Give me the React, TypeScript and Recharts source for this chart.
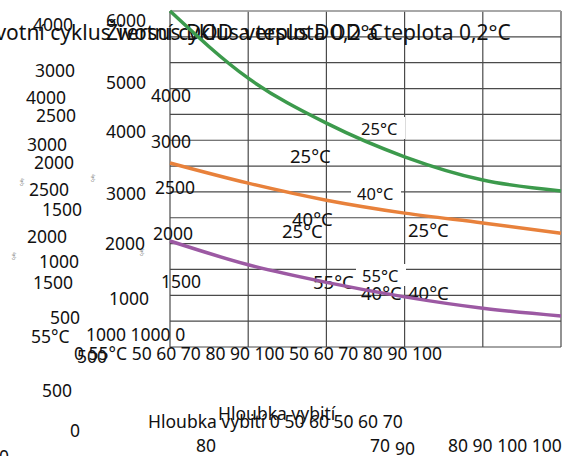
import { LineChart, Line, XAxis, YAxis, CartesianGrid, ReferenceLine, Customized } from 'recharts';

// depth of discharge (%) and cycle life per temperature
const dod = ['50', '60', '70', '80', '90', '100'];
const cycles25 = [6500, 5200, 4330, 3680, 3230, 3020];
const cycles40 = [3560, 3170, 2840, 2590, 2400, 2200];
const cycles55 = [2050, 1590, 1250, 970, 750, 600];
const gridTicks = [0, 500, 1000, 1500, 2000, 2500, 3000, 3500, 4000, 4500, 5000, 5500, 6000];

const title = 'Životní cyklus versus DOD a teplota 0,2°C';
const xTitle = 'Hloubka vybití';
const yTitle = 'Cykly';

// leftover tick texts from the overlapping axes
const outerTicks = ['4000', '3000', '4000', '2500', '3000', '2000', '2500', '1500', '2000', '1000', '1500', '500', '55°C', '500', '0', '0'];
const middleTicks = ['6000', '5000', '4000', '3000', '2000', '1000', '500'];
const innerTicks = ['4000', '3000', '2500', '2000', '1500', '1000 1000 0'];
const bottomTicks = ['0 55°C 50 60 70 80 90 100 50 60 70 80 90 100', `${xTitle} 0 50 60 50 60 70`, xTitle, '80', '70', '90', '80 90 100 100'];
const boxedLabels = ['25°C', '40°C', '55°C'];
const curveLabels = ['25°C', '40°C', '25°C', '25°C', '55°C', '40°C', '40°C'];

// layout for the texts above (x, baseline)
const outerPos = [[33, 31], [35, 77], [26, 104], [36, 122], [27, 151], [34, 169], [29, 196], [42, 216], [27, 243], [39, 268], [33, 289], [50, 324], [31, 343], [42, 397], [70, 437], [-1, 463]];
const middlePos = [[106, 27], [106, 89], [106, 138], [106, 200], [105, 250], [109, 305], [77, 363]];
const innerPos = [[151, 102], [151, 148], [155, 194], [153, 240], [161, 288], [86, 341]];
const bottomPos = [[74, 360], [148, 428], [218, 420], [196, 452], [370, 452], [395, 455], [448, 452]];
const boxedPos = [[361, 135], [357, 200], [362, 282]];
const curvePos = [[290, 163], [292, 226], [282, 238], [408, 237], [313, 289], [361, 300], [408, 300]];
const yTitlePos = [[23, 182], [94, 178], [15, 256], [143, 252]];

const data = dod.map((d, i) => ({ dod: d, c25: cycles25[i], c40: cycles40[i], c55: cycles55[i] }));

const FONT = '"Noto Sans", sans-serif';

function Txt({ s, x, y, size = 17.5 }: { s: string; x: number; y: number; size?: number }) {
  return (
    <text x={x} y={y} fontFamily={FONT} fontSize={size} fill="#111">
      {s}
    </text>
  );
}

function Boxes() {
  return (
    <g>
      {boxedPos.map(([x, y], i) => (
        <rect key={i} x={x - 6} y={y - 18} width={50} height={22} fill="#fff" />
      ))}
    </g>
  );
}

function Texts() {
  return (
    <g>
      <Txt s={title} x={-22} y={40} size={21} />
      <Txt s={title} x={106} y={40} size={21} />
      {outerTicks.map((s, i) => <Txt key={'o' + i} s={s} x={outerPos[i][0]} y={outerPos[i][1]} />)}
      {middleTicks.map((s, i) => <Txt key={'m' + i} s={s} x={middlePos[i][0]} y={middlePos[i][1]} />)}
      {innerTicks.map((s, i) => <Txt key={'n' + i} s={s} x={innerPos[i][0]} y={innerPos[i][1]} />)}
      {bottomTicks.map((s, i) => <Txt key={'b' + i} s={s} x={bottomPos[i][0]} y={bottomPos[i][1]} />)}
      {boxedLabels.map((s, i) => <Txt key={'x' + i} s={s} x={boxedPos[i][0]} y={boxedPos[i][1]} size={16.5} />)}
      {curveLabels.map((s, i) => <Txt key={'c' + i} s={s} x={curvePos[i][0]} y={curvePos[i][1]} size={18.5} />)}
      {yTitlePos.map(([x, y], i) => (
        <text key={'y' + i} x={x} y={y} fontFamily={FONT} fontSize={3} fill="#333" textAnchor="middle" transform={`rotate(-90 ${x} ${y})`}>
          {yTitle}
        </text>
      ))}
    </g>
  );
}

export default function App() {
  return (
    <div style={{ position: 'absolute', left: 0, top: 0, width: 571, height: 456, overflow: 'hidden', background: '#fff' }}>
      <LineChart width={571} height={456} data={data} margin={{ top: 11, right: 10, bottom: 109, left: 170 }}>
        <XAxis dataKey="dod" hide />
        <YAxis domain={[0, 6500]} ticks={gridTicks} hide />
        <CartesianGrid stroke="#4a4a4a" strokeWidth={1.2} />
        <ReferenceLine y={6500} stroke="#aaa" strokeWidth={1.5} />
        <Customized component={<Boxes />} />
        <Line type="monotone" dataKey="c25" stroke="#3c9a4c" strokeWidth={3.5} dot={false} isAnimationActive={false} />
        <Line type="monotone" dataKey="c40" stroke="#e8813b" strokeWidth={3.5} dot={false} isAnimationActive={false} />
        <Line type="monotone" dataKey="c55" stroke="#9c59a3" strokeWidth={3.5} dot={false} isAnimationActive={false} />
        <Customized component={<Texts />} />
      </LineChart>
    </div>
  );
}
